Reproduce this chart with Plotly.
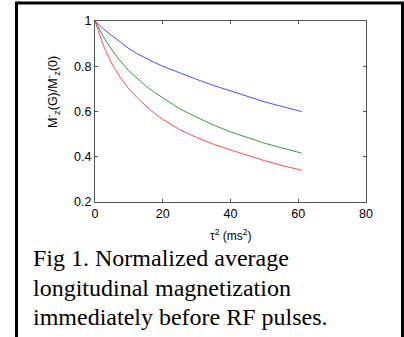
import plotly.graph_objects as go

tau2 = [0, 2.5, 5, 7.5, 10, 12.5, 15, 17.5, 20, 25, 30, 35, 40, 45, 50, 55, 61]
blue = [1.0, 0.965, 0.935, 0.905, 0.878, 0.855, 0.835, 0.817, 0.80, 0.77, 0.742, 0.715, 0.69, 0.668, 0.643, 0.623, 0.60]
green = [1.0, 0.93, 0.872, 0.822, 0.78, 0.745, 0.713, 0.685, 0.66, 0.612, 0.575, 0.54, 0.51, 0.485, 0.46, 0.44, 0.416]
red = [1.0, 0.89, 0.81, 0.75, 0.70, 0.66, 0.625, 0.592, 0.565, 0.52, 0.485, 0.455, 0.43, 0.405, 0.383, 0.362, 0.34]

xticks = [0, 20, 40, 60, 80]
yticks = [0.2, 0.4, 0.6, 0.8, 1.0]
yticktext = ["0.2", "0.4", "0.6", "0.8", "1"]

caption = ["Fig 1. Normalized average",
           "longitudinal magnetization",
           "immediately before RF pulses."]

W, H = 404, 337
L, R, T, B = 95, 366, 21, 202
pw, ph = R - L, B - T

def px(x):
    return (x - L) / pw

def py(y):
    return (B - y) / ph

fig = go.Figure()
for ys, c in [(blue, "#3a3aff"), (green, "#2a8a2a"), (red, "#ff3a3a")]:
    fig.add_trace(go.Scatter(x=tau2, y=ys, mode="lines",
                             line=dict(color=c, width=0.9), showlegend=False))

axis_common = dict(showgrid=False, zeroline=False, showline=True,
                   linecolor="#555555", linewidth=1, mirror="ticks",
                   ticks="inside", ticklen=3, tickcolor="#555555",
                   tickfont=dict(family="Liberation Sans, Arial", size=12.5, color="black"))

fig.update_xaxes(range=[0, 80], tickvals=xticks, **axis_common)
fig.update_yaxes(range=[0.2, 1.0], tickvals=yticks, ticktext=yticktext, **axis_common)

annotations = [
    dict(text="τ<sup>2</sup> (ms<sup>2</sup>)", x=px(230), y=py(235), xref="paper", yref="paper",
         showarrow=False, xanchor="center", yanchor="middle",
         font=dict(family="Liberation Sans, Arial", size=12, color="black")),
    dict(text="M<sup>-</sup><sub>z</sub>(G)/M<sup>-</sup><sub>z</sub>(0)", x=px(53), y=py(92),
         xref="paper", yref="paper", showarrow=False, textangle=-90,
         xanchor="center", yanchor="middle",
         font=dict(family="Liberation Sans, Arial", size=12.5, color="black")),
]
for i, line in enumerate(caption):
    annotations.append(dict(text=line, x=px(31), y=py(258 + 29.5 * i), xref="paper", yref="paper",
                            showarrow=False, xanchor="left", yanchor="middle",
                            font=dict(family="Liberation Serif, Times New Roman", size=24, color="black")))

fig.update_layout(
    width=W, height=H,
    margin=dict(l=L, r=W - R, t=T, b=H - B),
    paper_bgcolor="white", plot_bgcolor="white",
    annotations=annotations,
    shapes=[dict(type="rect", xref="paper", yref="paper",
                 x0=px(16.5), x1=px(402.5), y0=py(345), y1=py(3),
                 line=dict(color="black", width=3), layer="above")],
)

fig.write_html("out.html", config={"displayModeBar": False},
               post_script="document.body.style.margin='0';document.body.style.overflow='hidden';")
